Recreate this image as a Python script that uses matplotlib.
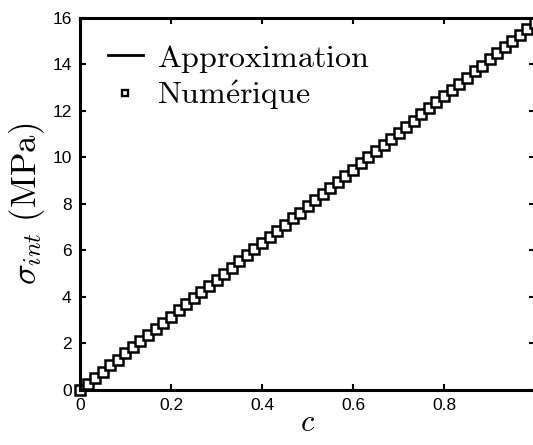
import matplotlib
matplotlib.use("Agg")
import matplotlib.pyplot as plt

plt.rcParams['mathtext.fontset'] = 'cm'
plt.rcParams['font.family'] = ['Liberation Sans', 'DejaVu Sans']

# approximation (straight line)
c_approx = [0.0, 1.0]
sigma_approx = [0.0, 15.8]

# numerical points
c_num = [0.0, 0.017, 0.033, 0.05, 0.067, 0.083, 0.10, 0.117, 0.133, 0.15,
         0.167, 0.183, 0.20, 0.217, 0.233, 0.25, 0.267, 0.283, 0.30, 0.317,
         0.333, 0.35, 0.367, 0.383, 0.40, 0.417, 0.433, 0.45, 0.467, 0.483,
         0.50, 0.517, 0.533, 0.55, 0.567, 0.583, 0.60, 0.617, 0.633, 0.65,
         0.667, 0.683, 0.70, 0.717, 0.733, 0.75, 0.767, 0.783, 0.80, 0.817,
         0.833, 0.85, 0.867, 0.883, 0.90, 0.917, 0.933, 0.95, 0.967, 0.983, 1.0]
sigma_num = [0.0, 0.27, 0.52, 0.79, 1.06, 1.31, 1.58, 1.85, 2.10, 2.37,
             2.64, 2.89, 3.16, 3.43, 3.68, 3.95, 4.22, 4.47, 4.74, 5.01,
             5.26, 5.53, 5.80, 6.05, 6.32, 6.59, 6.84, 7.11, 7.38, 7.63,
             7.90, 8.17, 8.42, 8.69, 8.96, 9.21, 9.48, 9.75, 10.00, 10.27,
             10.54, 10.79, 11.06, 11.33, 11.58, 11.85, 12.12, 12.37, 12.64, 12.91,
             13.16, 13.43, 13.70, 13.95, 14.22, 14.49, 14.74, 15.01, 15.28, 15.53, 15.80]

x_ticks = [0, 0.2, 0.4, 0.6, 0.8]
y_ticks = [0, 2, 4, 6, 8, 10, 12, 14, 16]

fig = plt.figure(figsize=(5.33, 4.45), dpi=100)
ax = fig.add_axes([0.150, 0.1236, 0.854, 0.836])

ax.plot(c_approx, sigma_approx, color='black', lw=2.0,
        label=r'$\mathrm{Approximation}$')
ax.plot(c_num, sigma_num, ls='none', marker='s', ms=7, mfc='white',
        mec='black', mew=1.8, label=r'$\mathrm{Num\acute{e}rique}$', clip_on=False)

ax.set_xlim(0, 1)
ax.set_ylim(0, 16)
ax.set_xticks(x_ticks)
ax.set_xticklabels(['0', '0.2', '0.4', '0.6', '0.8'])
ax.set_yticks(y_ticks)
ax.tick_params(direction='in', length=4, width=1.5, top=True, right=True,
               labelsize=12.5, pad=6)
for s in ax.spines.values():
    s.set_linewidth(2.2)

ax.set_xlabel(r'$c$', fontsize=22, labelpad=-4)
ax.set_ylabel(r'$\sigma_{int}\ (\mathrm{MPa})$', fontsize=25, labelpad=4)

leg = ax.legend(loc='upper left', frameon=False, fontsize=23, handlelength=1.1,
                handletextpad=0.45, borderaxespad=0.0, labelspacing=0.1,
                bbox_to_anchor=(0.033, 0.968))
for h in leg.legend_handles:
    h.set_markersize(5)
    h.set_markeredgewidth(1.7)

fig.savefig('out.png', dpi=100)
